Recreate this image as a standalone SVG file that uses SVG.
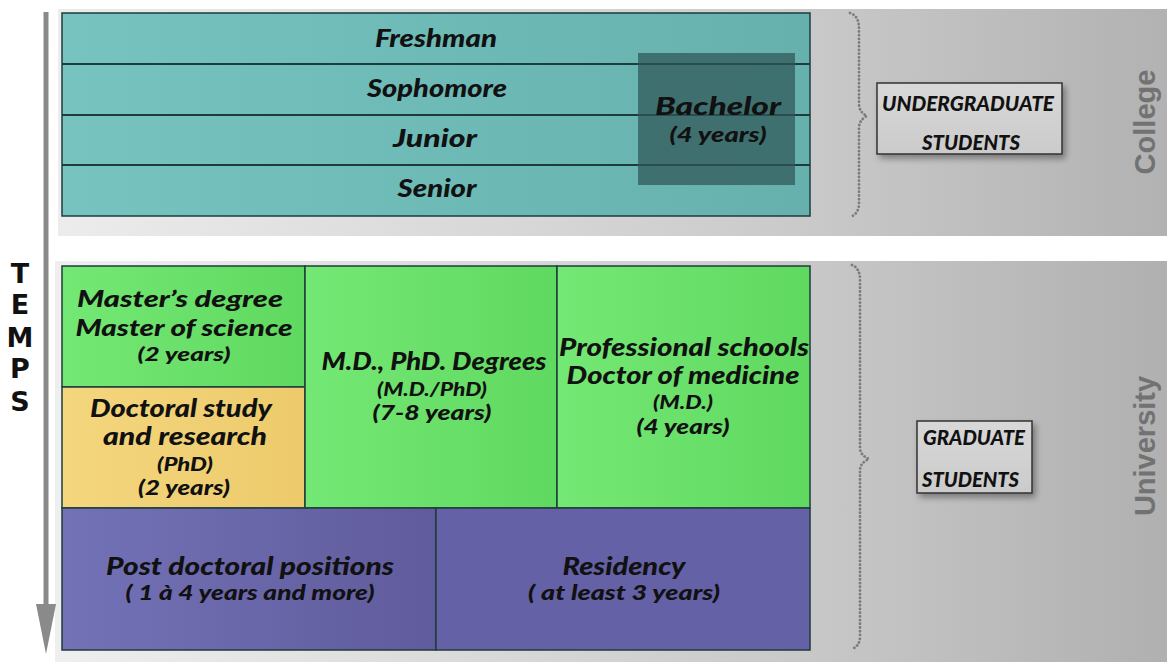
<svg xmlns="http://www.w3.org/2000/svg" width="1167" height="662" viewBox="0 0 1167 662">
  <defs>
    <linearGradient id="panelTop" x1="0" y1="0" x2="1" y2="0">
      <stop offset="0" stop-color="#ececec"/>
      <stop offset="0.65" stop-color="#cbcbcb"/>
      <stop offset="1" stop-color="#b2b2b2"/>
    </linearGradient>
    <linearGradient id="panelBottom" x1="0" y1="0" x2="1" y2="0">
      <stop offset="0" stop-color="#efefef"/>
      <stop offset="0.65" stop-color="#cacaca"/>
      <stop offset="1" stop-color="#b0b0b0"/>
    </linearGradient>
    <linearGradient id="teal" x1="0" y1="0" x2="1" y2="0">
      <stop offset="0" stop-color="#76c3bf"/>
      <stop offset="1" stop-color="#66b1ae"/>
    </linearGradient>
    <linearGradient id="green" x1="0" y1="0" x2="1" y2="0">
      <stop offset="0" stop-color="#74e874"/>
      <stop offset="1" stop-color="#60d960"/>
    </linearGradient>
    <linearGradient id="orange" x1="0" y1="0" x2="1" y2="0">
      <stop offset="0" stop-color="#f4d67e"/>
      <stop offset="1" stop-color="#edcb6c"/>
    </linearGradient>
    <linearGradient id="purple" x1="0" y1="0" x2="1" y2="0">
      <stop offset="0" stop-color="#7472b7"/>
      <stop offset="1" stop-color="#5f5b9c"/>
    </linearGradient>
    <linearGradient id="boxFill" x1="0" y1="0" x2="0" y2="1">
      <stop offset="0" stop-color="#d8d8d8"/>
      <stop offset="1" stop-color="#cbcbcb"/>
    </linearGradient>
    <filter id="shadow" x="-20%" y="-20%" width="150%" height="160%">
      <feDropShadow dx="3" dy="4" stdDeviation="3" flood-color="#000" flood-opacity="0.35"/>
    </filter>
    <!-- arrowhead drawn along +x so orient="auto" turns it with the axis -->
    <marker id="timeHead" markerUnits="userSpaceOnUse" markerWidth="52" markerHeight="22" refX="2" refY="11" orient="auto" viewBox="0 0 52 22">
      <polygon points="0,1 0,21 50,11" fill="#8a8a8a"/>
    </marker>
  </defs>
  <style>
    .cell { stroke: #1e3c3c; stroke-width: 1.5; }
    .line { stroke: #1e3c3c; stroke-width: 2; }
    .lbl { font-family: Lato, "Open Sans", "DejaVu Sans", sans-serif; font-style: italic; font-weight: 900; fill: #111; text-anchor: middle; }
    .big { font-size: 24px; }
    .tight { font-size: 23px; }
    .mid { font-size: 21px; }
    .small { font-size: 19px; }
    .cap { font-family: Lato, "Open Sans", sans-serif; font-style: italic; font-weight: 900; font-size: 21px; fill: #111; }
    .side { font-family: "Liberation Sans", Arial, sans-serif; font-weight: 700; font-size: 29px; fill: #727272; text-anchor: middle; }
    .temps { font-family: "DejaVu Sans", sans-serif; font-weight: 700; font-size: 27px; fill: #111; text-anchor: middle; }
    .brace { fill: none; stroke: #7c7c7c; stroke-width: 2.8; stroke-linecap: round; stroke-dasharray: 0.1 3.6; }
    .student { fill: url(#boxFill); stroke: #333; stroke-width: 1.5; filter: url(#shadow); }
  </style>

  <!-- background bands -->
  <rect id="band-college" x="58" y="9" width="1109" height="227" fill="url(#panelTop)"/>
  <rect id="band-university" x="55" y="261" width="1112" height="401" fill="url(#panelBottom)"/>

  <!-- college years -->
  <g id="college-years">
    <rect class="cell" x="62" y="13" width="748" height="203" fill="url(#teal)"/>
    <line class="line" x1="62" y1="64" x2="810" y2="64"/>
    <line class="line" x1="62" y1="115" x2="810" y2="115"/>
    <line class="line" x1="62" y1="165" x2="810" y2="165"/>
    <text class="lbl big" x="436" y="47" textLength="122" lengthAdjust="spacingAndGlyphs">Freshman</text>
    <text class="lbl big" x="437" y="97" textLength="140" lengthAdjust="spacingAndGlyphs">Sophomore</text>
    <text class="lbl big" x="435" y="147" textLength="84" lengthAdjust="spacingAndGlyphs">Junior</text>
    <text class="lbl big" x="437" y="197" textLength="79" lengthAdjust="spacingAndGlyphs">Senior</text>
  </g>

  <g id="bachelor">
    <rect x="638" y="53" width="157" height="132" fill="#2f5656" fill-opacity="0.72"/>
    <text class="lbl big" x="718" y="115" textLength="126" lengthAdjust="spacingAndGlyphs">Bachelor</text>
    <text class="lbl mid" x="718" y="142" textLength="97" lengthAdjust="spacingAndGlyphs">(4 years)</text>
  </g>

  <g id="undergraduate-students">
    <rect class="student" x="877" y="83" width="185" height="71"/>
    <text class="cap" x="882" y="111" textLength="172" lengthAdjust="spacingAndGlyphs">UNDERGRADUATE</text>
    <text class="cap" x="922" y="150" textLength="98" lengthAdjust="spacingAndGlyphs">STUDENTS</text>
  </g>

  <text id="college" class="side" transform="translate(1155,122) rotate(-90)">College</text>

  <!-- university programmes -->
  <g id="masters">
    <rect class="cell" x="62" y="266" width="243" height="121" fill="url(#green)"/>
    <text class="lbl tight" x="180" y="307" textLength="206" lengthAdjust="spacingAndGlyphs">Master’s degree</text>
    <text class="lbl tight" x="184" y="336" textLength="217" lengthAdjust="spacingAndGlyphs">Master of science</text>
    <text class="lbl small" x="184" y="361" textLength="93" lengthAdjust="spacingAndGlyphs">(2 years)</text>
  </g>

  <g id="doctoral">
    <rect class="cell" x="62" y="387" width="243" height="121" fill="url(#orange)"/>
    <text class="lbl big" x="181" y="417" textLength="182" lengthAdjust="spacingAndGlyphs">Doctoral study</text>
    <text class="lbl big" x="185" y="445" textLength="164" lengthAdjust="spacingAndGlyphs">and research</text>
    <text class="lbl small" x="185" y="471" textLength="56" lengthAdjust="spacingAndGlyphs">(PhD)</text>
    <text class="lbl mid" x="184" y="495" textLength="92" lengthAdjust="spacingAndGlyphs">(2 years)</text>
  </g>

  <g id="md-phd">
    <rect class="cell" x="305" y="266" width="252" height="242" fill="url(#green)"/>
    <text class="lbl big" x="434" y="370" textLength="225" lengthAdjust="spacingAndGlyphs">M.D., PhD. Degrees</text>
    <text class="lbl small" x="432" y="396" textLength="110" lengthAdjust="spacingAndGlyphs">(M.D./PhD)</text>
    <text class="lbl mid" x="432" y="420" textLength="119" lengthAdjust="spacingAndGlyphs">(7-8 years)</text>
  </g>

  <g id="professional">
    <rect class="cell" x="557" y="266" width="253" height="242" fill="url(#green)"/>
    <text class="lbl big" x="684" y="356" textLength="250" lengthAdjust="spacingAndGlyphs">Professional schools</text>
    <text class="lbl big" x="683" y="384" textLength="233" lengthAdjust="spacingAndGlyphs">Doctor of medicine</text>
    <text class="lbl small" x="683" y="409" textLength="60" lengthAdjust="spacingAndGlyphs">(M.D.)</text>
    <text class="lbl mid" x="683" y="434" textLength="93" lengthAdjust="spacingAndGlyphs">(4 years)</text>
  </g>

  <g id="postdoc">
    <rect class="cell" x="62" y="508" width="374" height="142" fill="url(#purple)"/>
    <text class="lbl big" x="250" y="575" textLength="288" lengthAdjust="spacingAndGlyphs">Post doctoral positions</text>
    <text class="lbl mid" x="250" y="600" textLength="249" lengthAdjust="spacingAndGlyphs">( 1 à 4 years and more)</text>
  </g>

  <g id="residency">
    <rect class="cell" x="436" y="508" width="374" height="142" fill="#6561a6"/>
    <text class="lbl big" x="624" y="575" textLength="123" lengthAdjust="spacingAndGlyphs">Residency</text>
    <text class="lbl mid" x="624" y="600" textLength="192" lengthAdjust="spacingAndGlyphs">( at least 3 years)</text>
  </g>

  <g id="graduate-students">
    <rect class="student" x="917" y="421" width="115" height="72"/>
    <text class="cap" x="923" y="445" textLength="102" lengthAdjust="spacingAndGlyphs">GRADUATE</text>
    <text class="cap" x="922" y="487" textLength="97" lengthAdjust="spacingAndGlyphs">STUDENTS</text>
  </g>

  <text id="university" class="side" transform="translate(1155,446) rotate(-90)">University</text>

  <g id="temps">
    <text class="temps" x="20" y="283">T</text>
    <text class="temps" x="20" y="314">E</text>
    <text class="temps" x="20" y="347">M</text>
    <text class="temps" x="20" y="378">P</text>
    <text class="temps" x="20" y="411">S</text>
  </g>

  <!-- time axis and grouping braces -->
  <g id="connectors">
    <line x1="46" y1="12" x2="46" y2="606" stroke="#8a8a8a" stroke-width="5" marker-end="url(#timeHead)"/>
    <path class="brace" d="M850,13 Q859,16 859,28 L859,104 Q859,112 867,116 Q859,120 859,128 L859,203 Q859,214 850,217"/>
    <path class="brace" d="M852,265 Q860,268 860,280 L860,448 Q860,455 869,459 Q860,463 860,470 L860,636 Q860,646 852,649"/>
  </g>
</svg>
